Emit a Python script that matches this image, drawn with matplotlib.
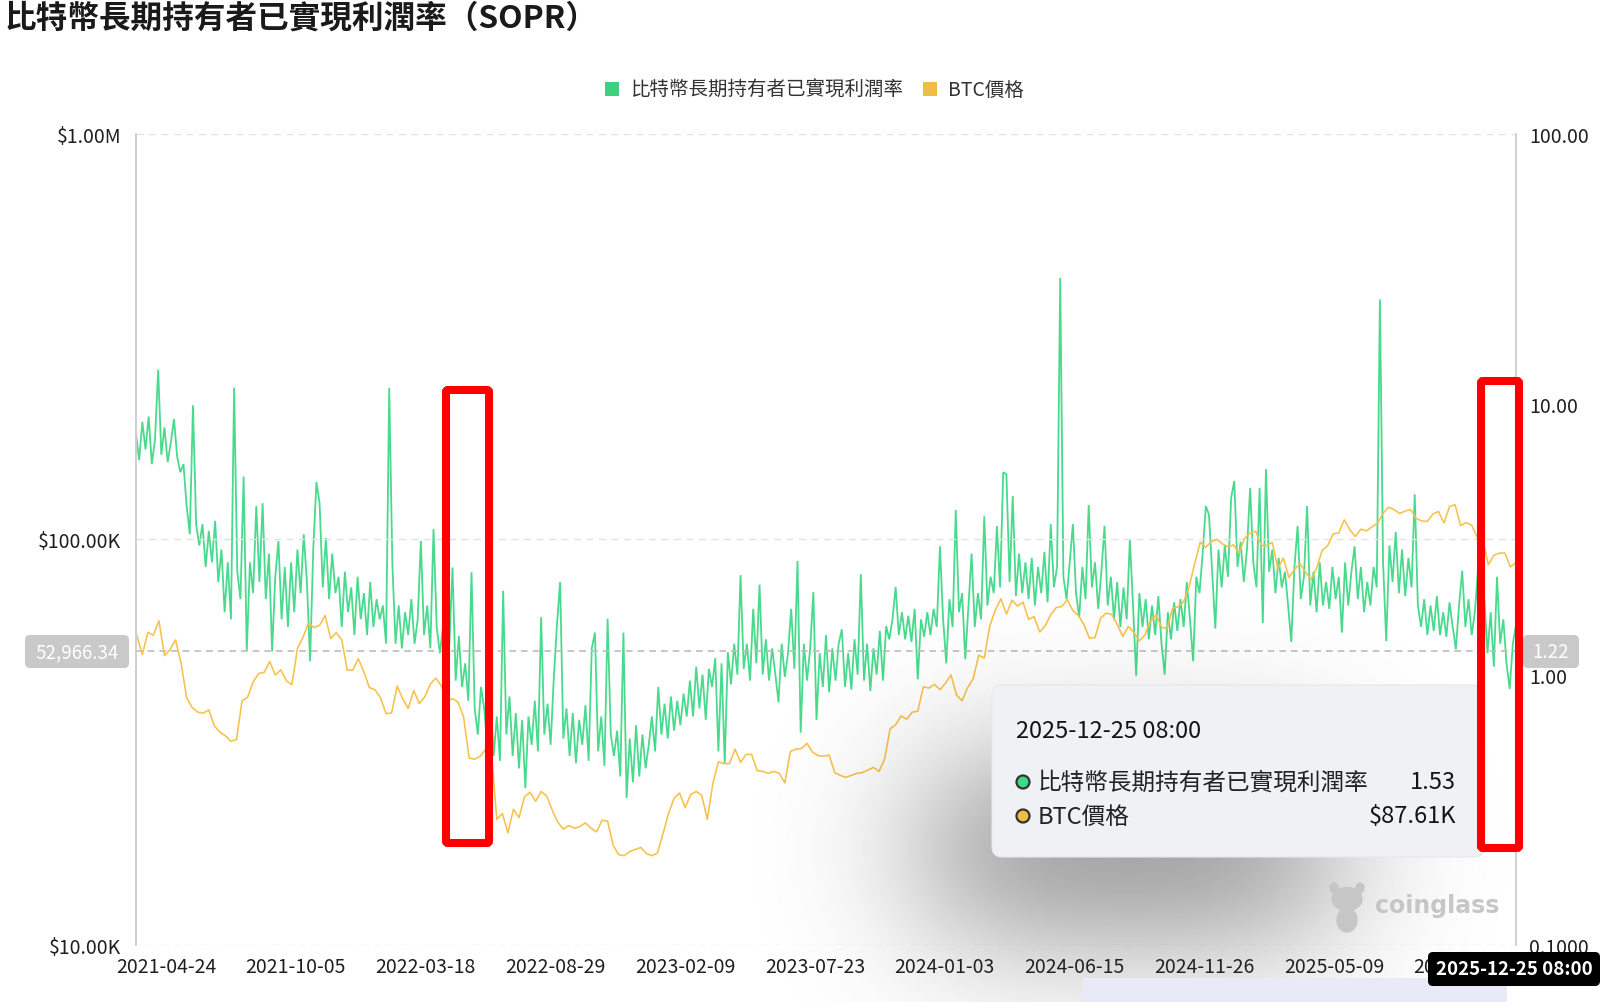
import math
import numpy as np
import pandas as pd
import matplotlib
matplotlib.use("Agg")
import matplotlib.pyplot as plt
from matplotlib.patches import FancyBboxPatch, Rectangle, Circle, Ellipse
from matplotlib.ticker import FixedLocator, NullLocator

plt.rcParams['font.family'] = ['Noto Sans CJK TC', 'DejaVu Sans']

# ---------------- data ----------------
title = "比特幣長期持有者已實現利潤率（SOPR）"
series_sopr_name = "比特幣長期持有者已實現利潤率"
series_price_name = "BTC價格"
last_date = "2025-12-25"
tooltip_time = "2025-12-25 08:00"

# LTH SOPR, one reading every 4 days, ending 2025-12-25
sopr = [
    7.8, 6.2, 8.6, 6.8, 9.0, 6.0, 7.4, 13.4, 6.5, 8.2, 6.1, 7.2, 8.8, 6.4,
    5.6, 6.0,
    4.2, 3.3, 9.9, 3.6,
    3.0, 3.6, 2.5, 3.4, 2.6, 3.7,
    2.2, 2.9, 1.7, 2.6, 1.6, 11.5, 2.4, 1.9, 5.4,
    1.22, 2.6, 2.0, 4.2, 2.2, 4.3, 1.9, 2.8,
    1.22, 2.3, 3.12, 1.6, 2.5, 1.5, 2.6, 1.7,
    2.9, 2.0, 3.3, 2.2, 1.12, 2.9, 5.15, 4.3, 2.1, 3.2, 1.9, 2.8, 2.0,
    2.3, 1.5, 2.4, 1.7, 2.1, 1.4, 2.3, 1.6, 2.0, 1.4, 2.2, 1.5, 1.9, 1.6,
    1.8, 1.3, 11.5, 2.56, 1.3, 1.8, 1.25, 1.7, 1.4, 1.9, 1.3, 1.6, 3.12, 1.4, 1.8, 1.25, 3.45, 1.5,
    1.2, 1.5, 1.05, 1.3, 2.49, 0.95, 1.39, 0.9, 1.1, 0.8, 2.39, 0.75, 0.6, 0.9,
    0.75, 0.55, 0.8, 0.5, 0.7, 0.48, 2.04, 0.6, 0.83, 0.5, 0.72, 0.45, 0.68,
    0.38, 0.7, 0.55, 0.8, 0.52, 1.63, 0.6, 0.78, 0.55, 0.97, 1.53, 2.2, 0.58, 0.75,
    0.5, 0.72, 0.47, 0.68, 0.55, 0.77, 0.48, 1.25, 1.43, 0.52, 0.7, 0.46, 1.61, 0.6, 0.5,
    0.62, 0.42, 1.43, 0.35, 0.58, 0.4, 0.65, 0.42, 0.6, 0.45,
    0.55, 0.7, 0.52, 0.9, 0.6, 0.78, 0.58, 0.83, 0.62, 0.8, 0.65, 0.85, 0.7,
    0.95, 0.7, 1.07, 0.75, 1.0, 0.68, 1.05,
    0.9, 1.15, 0.52, 1.1, 0.47, 1.21, 0.92, 1.3,
    1.0, 2.33, 1.05, 1.3, 0.95, 1.75, 1.1, 2.15, 1.0, 1.35, 0.95, 1.25, 1.0, 0.79, 1.3, 0.98,
    1.2, 1.75, 1.05, 2.63, 0.61, 1.3, 0.95, 1.25, 2.02, 0.68,
    1.2, 0.9, 1.4, 0.86, 1.25, 0.95, 1.3, 1.47, 0.9, 1.2, 0.88, 1.35, 1.0, 2.35, 0.95, 1.3,
    0.87, 1.25, 1.0, 1.45, 0.95, 1.51,
    1.35, 1.6, 2.11, 1.4, 1.7, 1.35, 1.65, 1.32, 1.75, 0.96, 1.6, 1.38, 1.7, 1.4, 1.75,
    1.5, 2.98, 1.6, 1.1, 1.9, 1.5, 4.06, 1.7, 2.0, 1.14, 1.8, 2.8, 1.5, 2.0, 1.6, 3.85, 1.8,
    2.3, 2.0, 3.54, 2.1, 5.6, 5.5, 2.2, 4.57, 1.95, 2.8, 2.0, 2.6,
    1.9, 2.7, 1.8, 2.5, 2.0, 2.84, 1.85, 3.6, 2.1, 2.5, 29.3, 2.3, 1.9, 2.6, 3.6, 2.0, 1.63,
    2.5, 1.9, 4.24, 2.1, 2.6, 1.75, 2.4, 3.55, 1.8, 2.3, 1.6, 2.2, 1.5, 2.1, 1.6, 3.17, 1.8,
    0.99, 2.0,
    1.5, 1.9, 1.35, 1.8, 1.4, 1.95, 1.3, 1.0, 1.7, 1.35, 1.85, 1.45, 1.9, 1.5, 2.2, 1.6,
    1.12, 2.3, 2.0, 2.8, 4.2, 3.9, 2.4, 1.48, 2.9, 2.1, 3.0, 2.3, 4.5, 5.2, 2.5, 3.1, 2.2,
    2.9, 4.9, 2.6, 2.1, 4.9, 1.55, 5.75, 2.4, 2.9, 2.0, 2.7, 2.1,
    2.4, 1.8, 1.32, 2.5, 3.54, 1.9, 2.3, 4.2, 1.8, 2.4, 1.7, 2.6, 1.8, 2.2, 1.75, 2.5, 1.9,
    2.3, 1.43, 2.6, 1.8, 2.4, 2.98, 1.9, 2.5, 1.7, 2.2, 1.8, 2.5,
    2.1, 24.4, 2.6, 1.33, 3.0, 2.2, 3.37, 2.0, 2.9, 1.95, 2.7, 2.1,
    4.64, 1.8, 1.5, 1.9, 1.4, 1.8, 1.45, 1.95, 1.4, 1.7, 1.38, 1.85, 1.5, 1.24, 1.8, 2.42,
    1.5, 1.9, 1.4, 1.7, 2.45,
    1.45, 1.9, 1.2, 1.7, 1.07, 2.3, 1.3, 1.6, 1.1, 0.885, 1.3, 1.53,
]

# BTC price (USD), weekly, ending 2025-12-25
price = [
    58000, 52000, 59000, 58000, 63000, 51700, 53500, 56500, 49500, 40700, 38500, 37500,
    37300, 38000, 34700, 33500, 32800, 31800, 32100, 40000, 40800, 44500, 46700, 47000,
    50000, 46300, 47700, 44800, 43800, 53800, 57300, 62200, 60600, 61400, 64900, 56900,
    58900, 56500, 47600, 47600, 50800, 47100,
    43100, 42600, 40700, 37200, 37300, 43500, 40500, 38300, 42400, 39400, 40900, 44000,
    45500, 43500, 39900, 40500, 39700, 36500, 28900, 28700, 29200, 30400, 30100, 20400,
    21100, 18900, 21600, 20600, 23200, 23800, 22600, 23900, 23300, 21500, 20100, 19300,
    19700, 19400, 19600, 20000, 19400, 19000, 20300, 20200, 17600, 16700, 16600, 17000,
    17200, 17400, 16800, 16600,
    16850, 18800, 21100, 23000, 23700, 21800, 23500, 23900, 23400, 20400, 25000, 28300,
    28000, 28000, 30400, 28200, 29500, 29500, 26900, 26800, 26500, 26800, 26500, 25100,
    30000, 30400, 30500, 31400, 29900, 29300, 29200, 29400, 26600, 26200, 25900, 26200,
    26500, 26600, 27000, 27400, 26800, 28700, 34100, 34900, 36700, 36000, 37500, 37700,
    43300, 43000, 43900, 42600,
    44200, 46300, 41300, 40000, 43100, 45300, 51800, 51000, 61200, 66900, 71400, 65400,
    70800, 68500, 70000, 63500, 64500, 59100, 61200, 65200, 67900, 68300, 71000, 66700,
    64900, 61600, 57000, 57300, 63900, 65800, 65300, 61700, 57600, 61000, 59000, 56200,
    58100, 62900, 65100, 60700, 60300, 67600, 68200, 70200, 76500, 87300, 98400, 95600,
    98800, 100000, 97500, 95800,
    96900, 92500, 100500, 103700, 104700, 96600, 96600, 98300, 84700, 90000, 80500, 84200,
    87200, 83000, 79600, 84900, 93900, 96500, 103200, 103700, 111700, 105600, 101600, 106000,
    104900, 107300, 109600, 116000, 120000, 118400, 115800, 117500, 118300, 112500, 111000,
    110700, 115500, 117100, 109700, 120500, 121700, 108200, 110000, 108300, 101300, 99700,
    86600, 91300, 92500, 92500, 85500, 87610,
]

left_ticks = [1e4, 1e5, 1e6]
left_tick_labels = ["$10.00K", "$100.00K", "$1.00M"]
right_ticks = [0.1, 1, 10, 100]
right_tick_labels = ["0.1000", "1.00", "10.00", "100.00"]
x_tick_labels = ["2021-04-24", "2021-10-05", "2022-03-18", "2022-08-29", "2023-02-09",
                 "2023-07-23", "2024-01-03", "2024-06-15", "2024-11-26", "2025-05-09",
                 "2025-10-20"]
crosshair_price = 52966.34

# ---------------- derived ----------------
sopr_dates = pd.date_range(end=last_date, periods=len(sopr), freq="4D")
price_dates = pd.date_range(end=last_date, periods=len(price), freq="7D")

GREEN = "#3fd887"
YELLOW = "#f8c14a"

W, H = 1600, 1003
fig = plt.figure(figsize=(W / 100, H / 100), dpi=100)
fig.patch.set_facecolor("white")

def fb(x0, y0, x1, y1):
    return [x0 / W, 1 - y1 / H, (x1 - x0) / W, (y1 - y0) / H]

ax = fig.add_axes(fb(136, 134.7, 1516, 946))
ax2 = ax.twinx()

ax2.plot(sopr_dates, sopr, color=GREEN, lw=1.3, alpha=0.95, solid_joinstyle="miter")
ax.plot(price_dates, price, color=YELLOW, lw=1.15)

ax.set_zorder(2)
ax2.set_zorder(1)
ax.patch.set_visible(False)

ax.set_yscale("log")
ax2.set_yscale("log")
ax.set_ylim(1e4, 1e6)
ax2.set_ylim(0.1, 100)
ax.set_xlim(sopr_dates[0], sopr_dates[-1])

ax.yaxis.set_major_locator(FixedLocator(left_ticks))
ax.yaxis.set_minor_locator(NullLocator())
ax.set_yticklabels(left_tick_labels)
ax2.yaxis.set_major_locator(FixedLocator(right_ticks))
ax2.yaxis.set_minor_locator(NullLocator())
ax2.set_yticklabels(right_tick_labels)

ax.set_xticks(pd.to_datetime(x_tick_labels))
ax.set_xticklabels(x_tick_labels)

ax.tick_params(axis="y", length=0, pad=10.5, labelsize=14, labelcolor="#1f1f1f")
ax2.tick_params(axis="y", length=0, pad=9.3, labelsize=14, labelcolor="#1f1f1f")
ax.tick_params(axis="x", length=0, pad=8, labelsize=14, labelcolor="#1f1f1f")

for a in (ax, ax2):
    for s in ("top", "bottom"):
        a.spines[s].set_visible(False)
    for s in ("left", "right"):
        a.spines[s].set_color("#cfcfcf")
        a.spines[s].set_linewidth(1.1)

ax.grid(axis="y", color="#e2e2e2", lw=1.0, ls=(0, (5, 4)))
ax.grid(axis="x", visible=False)
ax.axhline(crosshair_price, color="#bdbdbd", lw=1.2, ls=(0, (4, 3)), zorder=1)

# ---------------- overlay (pixel coordinates) ----------------
ov = fig.add_axes([0, 0, 1, 1], zorder=5)
ov.axis("off")

# tooltip shadow (separable gaussian-blurred rectangle)
verf = np.vectorize(math.erf)
def band(v, a, b, s):
    return 0.5 * (verf((v - a) / (s * math.sqrt(2))) - verf((v - b) / (s * math.sqrt(2))))
xs = np.arange(W) + 0.5
ys = np.arange(H) + 0.5
alpha = 0.68 * np.outer(band(ys, 780, 920, 75), band(xs, 930, 1330, 75))
rgba = np.zeros((H, W, 4))
rgba[..., :3] = 0.22
rgba[..., 3] = alpha
ov.imshow(rgba, extent=[0, W, H, 0], aspect="auto", interpolation="bilinear", zorder=1)
ov.set_xlim(0, W)
ov.set_ylim(H, 0)

# watermark
wm = "#c6c6c6"
ov.add_patch(Ellipse((1347, 900), 30, 23, color=wm, zorder=2))
ov.add_patch(Ellipse((1347, 921), 20, 24, color=wm, zorder=2))
ov.add_patch(Ellipse((1334, 889), 8, 10, color=wm, zorder=2))
ov.add_patch(Ellipse((1360, 889), 8, 10, color=wm, zorder=2))
ov.text(1375, 906, "coinglass", color=wm, fontsize=17, fontweight="bold",
        ha="left", va="center", family=["DejaVu Sans"], zorder=2)

# light slider strip at bottom
ov.add_patch(Rectangle((1083, 979), 424, 24, facecolor="#e8ebf7", edgecolor="none", zorder=2))

# tooltip
ov.add_patch(FancyBboxPatch((992, 686), 492, 172,
                            boxstyle="round,pad=0,rounding_size=10",
                            facecolor="#f0f1f5", edgecolor="#e6e7ec", lw=0.8, zorder=3))
ov.text(1016, 731, tooltip_time, fontsize=17, color="#141414", ha="left", va="center", zorder=4)
ov.add_patch(Circle((1023, 783), 6.5, facecolor=GREEN, edgecolor="#333333", lw=1.6, zorder=4))
ov.add_patch(Circle((1023, 817), 6.5, facecolor="#f0bc43", edgecolor="#333333", lw=1.6, zorder=4))
ov.text(1038, 783, series_sopr_name, fontsize=17, color="#222222", ha="left", va="center", zorder=4)
ov.text(1038, 817, series_price_name, fontsize=17, color="#222222", ha="left", va="center", zorder=4)
ov.text(1456, 783, f"{sopr[-1]:.2f}", fontsize=17, color="#141414", ha="right", va="center", zorder=4)
ov.text(1456, 817, f"${price[-1] / 1000:.2f}K", fontsize=17, color="#141414",
        ha="right", va="center", zorder=4)

# crosshair labels
cross_frac = math.log10(crosshair_price / left_ticks[0]) / math.log10(left_ticks[-1] / left_ticks[0])
cross_sopr = 10 ** (math.log10(right_ticks[0]) + cross_frac * math.log10(right_ticks[-1] / right_ticks[0]))
ov.add_patch(FancyBboxPatch((25, 636), 104, 33, boxstyle="round,pad=0,rounding_size=5",
                            facecolor="#c9c9c9", edgecolor="none", zorder=4))
ov.text(77, 653, f"{crosshair_price:,.2f}", fontsize=13.5, color="white", ha="center",
        va="center", zorder=5)
ov.add_patch(FancyBboxPatch((1523, 636), 56, 33, boxstyle="round,pad=0,rounding_size=5",
                            facecolor="#c9c9c9", edgecolor="none", zorder=4))
ov.text(1551, 653, f"{cross_sopr:.2f}", fontsize=13.5, color="white", ha="center",
        va="center", zorder=5)

# x crosshair label
ov.add_patch(FancyBboxPatch((1428, 953), 172, 34, boxstyle="round,pad=0,rounding_size=5",
                            facecolor="black", edgecolor="none", zorder=6))
ov.text(1514, 970, tooltip_time, fontsize=13.5, fontweight="bold", color="white",
        ha="center", va="center", zorder=7)

# red highlight boxes
for (x0, y0, x1, y1) in [(446, 391, 489, 844), (1481, 382, 1519, 849)]:
    ov.add_patch(FancyBboxPatch((x0, y0), x1 - x0, y1 - y0,
                                boxstyle="round,pad=0,rounding_size=2",
                                facecolor="none", edgecolor="#ff0000", lw=5.8, zorder=8))

# title and legend
ov.text(5, 19, title, fontsize=22.8, fontweight="bold", color="#1a1a1a",
        ha="left", va="center", zorder=9)
ov.add_patch(Rectangle((605, 83), 14, 14, facecolor="#3ecf7f", edgecolor="none", zorder=9))
ov.text(630, 90, series_sopr_name, fontsize=14, color="#333333", ha="left", va="center", zorder=9)
ov.add_patch(Rectangle((923, 83), 14, 14, facecolor="#f0bc43", edgecolor="none", zorder=9))
ov.text(948, 90, series_price_name, fontsize=14, color="#333333", ha="left", va="center", zorder=9)

fig.savefig("out.png", dpi=100)
